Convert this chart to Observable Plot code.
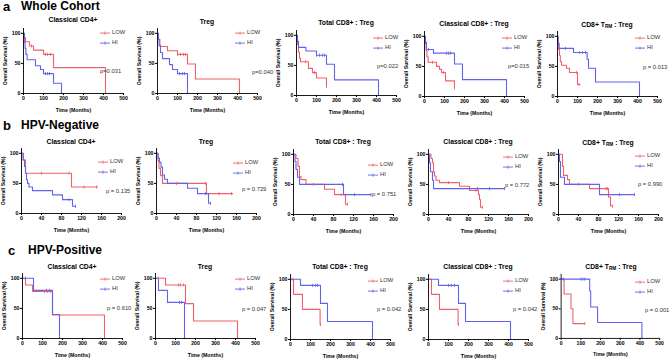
<!DOCTYPE html>
<html><head><meta charset="utf-8">
<script src="https://cdn.jsdelivr.net/npm/d3@7"></script>
<script src="https://cdn.jsdelivr.net/npm/@observablehq/plot@0.6"></script>
<style>
body{margin:0;background:#fff;font-family:"Liberation Sans",Arial,sans-serif;}
#root{position:relative;width:669px;height:359px;overflow:hidden;background:#fff;}
.abs{position:absolute;white-space:nowrap;line-height:1;}
.sec{font-size:12px;font-weight:bold;color:#000;}
.ttl{font-size:6.8px;font-weight:bold;color:#000;transform:translate(-50%,-50%);}
.ttl sub{font-size:0.7em;vertical-align:-0.3em;line-height:0;}
.leg{font-size:5.8px;color:#333;transform:translateY(-50%);display:flex;align-items:center;}
.leg svg{margin-right:2px;overflow:visible;}
.pv{font-size:5.8px;color:#333;transform:translateY(-50%);}
.plotbox{position:absolute;}
</style></head>
<body><div id="root"></div>
<script>
// ---------- labels ----------
const sectionLetters = ["a", "b", "c"];
const sectionNames = ["Whole Cohort", "HPV-Negative", "HPV-Positive"];
const panelTitles = ["Classical CD4+", "Treg", "Total CD8+ : Treg", "Classical CD8+ : Treg", "CD8+ T<sub>RM</sub> : Treg"];
const seriesNames = ["LOW", "HI"];
const xTicksWhole = [0, 100, 200, 300, 400, 500];
const xTicksNeg = [0, 40, 80, 120, 160, 200];
const yTicks = [0, 50, 100];
const pValuesA = ["p=0.031", "p=0.040", "p=0.022", "p=0.015", "p = 0.013"];
const pValuesB = ["p = 0.135", "p = 0.729", "p = 0.751", "p = 0.772", "p = 0.990"];
const pValuesC = ["p = 0.610", "p = 0.047", "p = 0.042", "p = 0.042", "p = 0.001"];

// ---------- a: Whole cohort (time, survival %) ----------
const a1Low = [[0,100],[5,93],[10,86],[30,79],[50,72],[100,65],[150,43],[410,0]];
const a1LowCensor = [40,110,120,135];
const a1Hi = [[0,100],[4,85],[8,75],[12,65],[18,56],[60,46],[85,40],[100,33],[150,17],[190,0]];
const a1HiCensor = [110,120,130];

const a2Low = [[0,100],[5,90],[12,78],[50,71],[100,65],[150,49],[190,24],[410,0]];
const a2LowCensor = [100,115,130,140];
const a2Hi = [[0,100],[4,90],[8,80],[15,68],[25,58],[60,48],[75,40],[100,33],[150,0]];
const a2HiCensor = [110,125,135];

const a3Low = [[0,100],[5,85],[10,72],[15,62],[20,56],[60,45],[80,38],[100,29],[150,15]];
const a3LowCensor = [45,90,150];
const a3Hi = [[0,100],[5,90],[10,80],[47,74],[100,67],[150,52],[190,26],[410,0]];
const a3HiCensor = [100,115,130,140];

const a4Low = [[0,100],[4,88],[8,76],[12,66],[18,57],[60,50],[75,45],[85,40],[105,26],[150,14]];
const a4LowCensor = [40,95,150];
const a4Hi = [[0,100],[5,90],[10,78],[45,72],[150,54],[190,28],[410,0]];
const a4HiCensor = [20,110,120,130];

const a5Low = [[0,100],[3,90],[6,78],[10,68],[14,58],[20,52],[45,47],[60,40],[100,20],[112,20]];
const a5LowCensor = [95,108];
const a5Hi = [[0,100],[3,88],[8,80],[80,73],[148,62],[155,47],[190,24],[410,0]];
const a5HiCensor = [40,110,125,140];

// ---------- b: HPV-negative ----------
const b1Low = [[0,100],[4,89],[8,67],[100,44],[152,44]];
const b1LowCensor = [40,95,125,150];
const b1Hi = [[0,100],[3,89],[6,78],[8,67],[10,56],[12,50],[15,44],[22,38],[62,31],[82,23],[102,12],[108,12]];
const b1HiCensor = [95,108];

const b2Low = [[0,100],[3,88],[5,75],[8,63],[12,50],[100,33],[152,33]];
const b2LowCensor = [40,98,125,150];
const b2Hi = [[0,100],[3,92],[6,85],[9,77],[12,64],[16,57],[22,50],[62,42],[82,33],[104,17],[108,17]];
const b2HiCensor = [98,108];

const b3Low = [[0,100],[5,93],[9,80],[12,63],[15,58],[25,50],[62,42],[82,33],[104,17],[108,17]];
const b3LowCensor = [40,95,108];
const b3Hi = [[0,100],[3,88],[5,75],[8,62],[12,50],[100,33],[155,33]];
const b3HiCensor = [98,122,155];

const b4Low = [[0,100],[5,93],[8,86],[10,71],[12,64],[15,57],[22,53],[62,47],[82,40],[100,33],[102,25],[104,12],[108,12]];
const b4LowCensor = [40,95,108];
const b4Hi = [[0,100],[2,86],[4,71],[8,57],[10,43],[152,43]];
const b4HiCensor = [98,122,152];

const b5Low = [[0,100],[8,80],[10,65],[18,58],[22,50],[62,43],[100,29],[104,14],[108,14]];
const b5LowCensor = [40,95,98,108];
const b5Hi = [[0,100],[2,88],[4,62],[12,50],[82,33],[152,33]];
const b5HiCensor = [122,152];

// ---------- c: HPV-positive ----------
const c1Low = [[0,100],[15,89],[50,78],[150,39],[410,0]];
const c1LowCensor = [110,125,140];
const c1Hi = [[0,100],[55,80],[150,40],[185,0]];
const c1HiCensor = [15,120,135];

const c2Low = [[0,100],[50,89],[150,58],[190,29],[410,0]];
const c2LowCensor = [15,115,125,140];
const c2Hi = [[0,100],[15,80],[60,60],[145,0]];
const c2HiCensor = [120,130];

const c3Low = [[0,100],[15,75],[60,50],[148,25],[150,25]];
const c3LowCensor = [12,150];
const c3Hi = [[0,100],[50,90],[150,60],[185,30],[410,0]];
const c3HiCensor = [110,125,135];

const c4Low = [[0,100],[15,75],[55,50],[148,25],[150,25]];
const c4LowCensor = [150];
const c4Hi = [[0,100],[50,90],[150,60],[185,30],[410,0]];
const c4HiCensor = [100,115,130];

const c5Low = [[0,100],[15,75],[50,50],[60,25],[120,25]];
const c5LowCensor = [120];
const c5Hi = [[0,100],[145,80],[150,53],[185,27],[410,0]];
const c5HiCensor = [12,100,110,120];

// ---------- assembly ----------
const RED = "#f0606a", BLUE = "#6262ee";
const rows = [
  {xmax: 500, ticks: xTicksWhole, p: pValuesA, curves: [[a1Low,a1LowCensor,a1Hi,a1HiCensor],[a2Low,a2LowCensor,a2Hi,a2HiCensor],[a3Low,a3LowCensor,a3Hi,a3HiCensor],[a4Low,a4LowCensor,a4Hi,a4HiCensor],[a5Low,a5LowCensor,a5Hi,a5HiCensor]]},
  {xmax: 200, ticks: xTicksNeg, p: pValuesB, curves: [[b1Low,b1LowCensor,b1Hi,b1HiCensor],[b2Low,b2LowCensor,b2Hi,b2HiCensor],[b3Low,b3LowCensor,b3Hi,b3HiCensor],[b4Low,b4LowCensor,b4Hi,b4HiCensor],[b5Low,b5LowCensor,b5Hi,b5HiCensor]]},
  {xmax: 500, ticks: xTicksWhole, p: pValuesC, curves: [[c1Low,c1LowCensor,c1Hi,c1HiCensor],[c2Low,c2LowCensor,c2Hi,c2HiCensor],[c3Low,c3LowCensor,c3Hi,c3HiCensor],[c4Low,c4LowCensor,c4Hi,c4HiCensor],[c5Low,c5LowCensor,c5Hi,c5HiCensor]]}
];

// page layout (pixel positions of each panel's frame origin and overlays)
const sectionLayout = [{lx:3, nx:21, top:0}, {lx:3, nx:21, top:119}, {lx:8, nx:28, top:243.5}];
const layout = [
  [{L:23,B:93,ty:20,lx:100,ly:33,px:100,py:72},{L:157,B:93,ty:22,lx:235,ly:33,px:252,py:73},{L:296,B:95,ty:23,lx:373,ly:38,px:377,py:67},{L:424,B:96,ty:24,lx:502,ly:38,px:508,py:67},{L:557,B:96,ty:25,lx:635,ly:38,px:643,py:68}],
  [{L:21,B:213,ty:142,lx:98,ly:162,px:106,py:192},{L:156,B:213,ty:142,lx:233,ly:163,px:242,py:190},{L:293,B:214,ty:142,lx:368,ly:165,px:372,py:195},{L:428,B:214,ty:142,lx:503,ly:157,px:505,py:186},{L:558,B:214,ty:143,lx:635,ly:156,px:638,py:185}],
  [{L:22,B:338,ty:267,lx:100,ly:279,px:107,py:309},{L:155,B:338,ty:267,lx:235,ly:279,px:242,py:310},{L:290,B:339,ty:267,lx:368,ly:281,px:377,py:310},{L:428,B:339,ty:267,lx:503,ly:281,px:513,py:310},{L:561,B:339,ty:267,lx:635,ly:282,px:645,py:311}]
];

const ML = 24, MR = 10, MT = 6, MB = 22, PW = 100, PH = 65;
const bar = {draw(ctx, size) { const r = Math.sqrt(size / Math.PI); ctx.moveTo(0, -r); ctx.lineTo(0, r); }};
const toRows = pts => pts.map(([t, s]) => ({t, s}));
const survAt = (pts, t) => { let s = pts[0][1]; for (const [tt, ss] of pts) { if (tt <= t) s = ss; else break; } return s; };
const censorRows = (pts, cs) => cs.map(t => ({t, s: survAt(pts, t)}));

const root = document.getElementById("root");
function add(html, cls, style) {
  const d = document.createElement("div");
  d.className = "abs " + cls;
  d.innerHTML = html;
  Object.assign(d.style, style);
  root.appendChild(d);
  return d;
}

rows.forEach((row, ri) => {
  const sl = sectionLayout[ri];
  add(sectionLetters[ri], "sec", {left: sl.lx + "px", top: sl.top + "px", fontSize: "13px"});
  add(sectionNames[ri], "sec", {left: sl.nx + "px", top: sl.top + "px"});
  row.curves.forEach((c, pi) => {
    const [low, lowC, hi, hiC] = c;
    const lay = layout[ri][pi];
    const svg = Plot.plot({
      width: ML + PW + MR, height: MT + PH + MB,
      marginLeft: ML, marginRight: MR, marginTop: MT, marginBottom: MB,
      x: {domain: [0, row.xmax]},
      y: {domain: [0, 108]},
      style: {background: "transparent", overflow: "visible", fontFamily: "Liberation Sans, Arial, sans-serif", fontWeight: "bold", color: "#000"},
      marks: [
        Plot.axisX({ticks: row.ticks, tickSize: 2, tickPadding: 1, fontSize: 5.2, fontWeight: "bold", label: "Time (Months)", labelAnchor: "center", labelOffset: 18, labelArrow: "none"}),
        Plot.axisY({ticks: yTicks, tickSize: 2, tickPadding: 1, fontSize: 5.2, fontWeight: "bold", label: "Overall Survival (%)", labelAnchor: "center", labelOffset: 20, labelArrow: "none"}),
        Plot.line(toRows(low), {x: "t", y: "s", curve: "step-after", stroke: RED, strokeWidth: 1.1}),
        Plot.line(toRows(hi), {x: "t", y: "s", curve: "step-after", stroke: BLUE, strokeWidth: 1.1}),
        Plot.dot(censorRows(low, lowC), {x: "t", y: "s", symbol: bar, r: 1.6, stroke: RED, strokeWidth: 0.8}),
        Plot.dot(censorRows(hi, hiC), {x: "t", y: "s", symbol: bar, r: 1.6, stroke: BLUE, strokeWidth: 0.8}),
        Plot.ruleX([0], {stroke: "#000", strokeWidth: 0.9}),
        Plot.ruleY([0], {stroke: "#000", strokeWidth: 0.9})
      ]
    });
    const box = document.createElement("div");
    box.className = "plotbox";
    box.style.left = (lay.L - ML) + "px";
    box.style.top = (lay.B - PH - MT) + "px";
    box.appendChild(svg);
    root.appendChild(box);
    add(panelTitles[pi], "ttl", {left: (lay.L + PW / 2) + "px", top: lay.ty + "px"});
    [[seriesNames[0], RED, 0], [seriesNames[1], BLUE, 10]].forEach(([name, col, dy]) => {
      add(`<svg width="10" height="4" viewBox="0 0 10 4"><line x1="0" y1="2" x2="10" y2="2" stroke="${col}" stroke-width="0.9"/><line x1="5" y1="0.4" x2="5" y2="3.6" stroke="${col}" stroke-width="0.8"/></svg>${name}`,
        "leg", {left: lay.lx + "px", top: (lay.ly + dy) + "px"});
    });
    add(row.p[pi], "pv", {left: lay.px + "px", top: lay.py + "px"});
  });
});
</script>
</body></html>
